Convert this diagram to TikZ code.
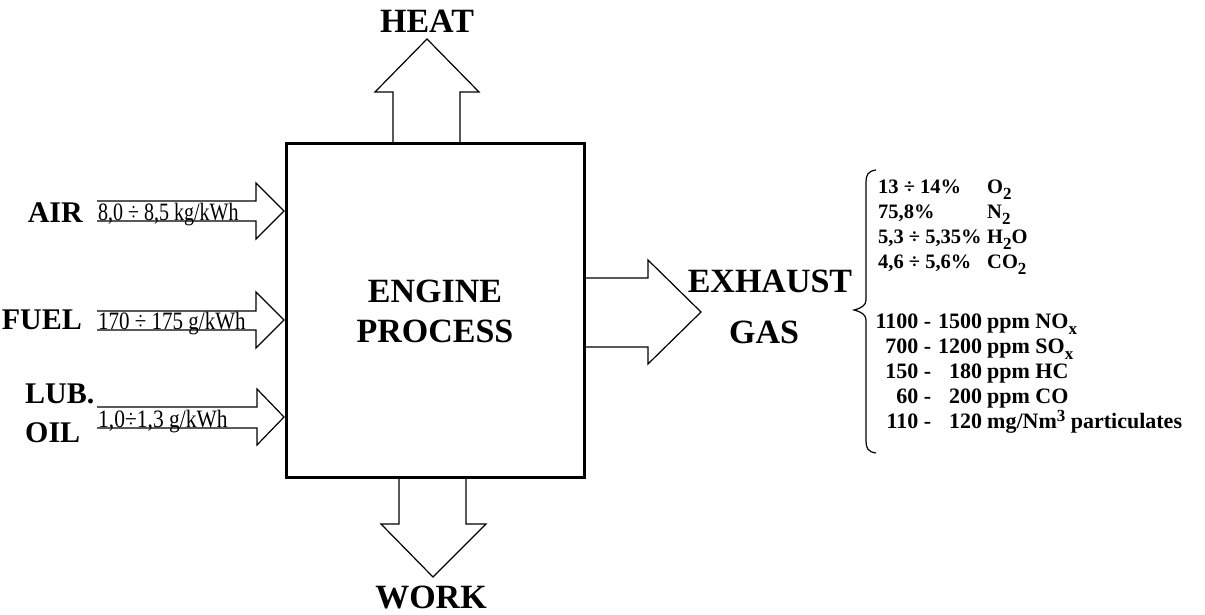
\documentclass[tikz,border=0pt]{standalone}
\usepackage{fontspec}
\setmainfont{Liberation Serif}
\usepackage{array}
\newcommand{\sbs}[1]{\raisebox{-6pt}{\fontsize{17}{17}\selectfont #1}}
\newcommand{\sps}[1]{\raisebox{7pt}{\fontsize{17}{17}\selectfont #1}}
\tikzset{
  big/.style={font=\fontsize{34}{40}\selectfont\bfseries, inner sep=0},
  side/.style={font=\fontsize{30}{36}\selectfont\bfseries, inner sep=0},
  rate/.style={font=\fontsize{25}{25}\selectfont, inner sep=0, anchor=base west},
  blockarrow/.style={draw, line width=1.2pt, line join=miter},
  enginebox/.style={draw, line width=3pt, minimum width=298pt, minimum height=334pt, inner sep=0},
  bracestyle/.style={draw, line width=1.2pt},
  listtext/.style={anchor=base west, inner sep=0}
}
\begin{document}
\begin{tikzpicture}[x=1pt,y=-1pt]
\useasboundingbox (0,0) rectangle (1205,614);

% engine box
\node[enginebox] (engine) at (435,310) {};
\node[big, anchor=base] (engtxt1) at (435,302) {ENGINE};
\node[big, anchor=base] (engtxt2) at (435,342) {PROCESS};

% heat arrow
\draw[blockarrow] (393,143) -- (393,92) -- (375,92) -- (427,39) -- (479,92) -- (460,92) -- (460,143);
\node[big, anchor=base] (heat) at (427,32) {HEAT};

% work arrow
\draw[blockarrow] (399,477) -- (399,524) -- (381,524) -- (433,577) -- (486,524) -- (466,524) -- (466,477);
\node[big, anchor=base] (work) at (431,608) {WORK};

% exhaust arrow
\draw[blockarrow] (585,278) -- (648,278) -- (648,260) -- (701,312) -- (648,364) -- (648,347) -- (585,347);
\node[big, anchor=base] (exh1) at (770,292) {EXHAUST};
\node[big, anchor=base] (exh2) at (764,343) {GAS};

% input arrows
\draw[blockarrow] (97,201) -- (256,201) -- (256,183) -- (284,211) -- (256,239) -- (256,221) -- (97,221);
\node[rate] (airrate) at (98,220) {\scalebox{0.8}[1]{8,0 ÷ 8,5 kg/kWh}};
\node[side, anchor=base east] (air) at (83,222) {AIR};

\draw[blockarrow] (97,311) -- (256,311) -- (256,292) -- (284,320) -- (256,348) -- (256,330) -- (97,330);
\node[rate] (fuelrate) at (98,329) {\scalebox{0.84}[1]{170 ÷ 175 g/kWh}};
\node[side, anchor=base east] (fuel) at (82,329) {FUEL};

\draw[blockarrow] (97,407) -- (257,407) -- (257,389) -- (284,417) -- (257,445) -- (257,428) -- (97,428);
\node[rate] (lubrate) at (98,427) {\scalebox{0.86}[1]{1,0÷1,3 g/kWh}};
\node[side, anchor=base west] (lub1) at (25,403) {LUB.};
\node[side, anchor=base west] (lub2) at (25,442) {OIL};

% brace
\path[bracestyle] (876,170) .. controls (868,171) and (866,175) .. (866,182) -- (866,300)
  .. controls (866,305) and (862,308) .. (854,310)
  .. controls (862,312) and (866,315) .. (866,320) -- (866,441)
  .. controls (866,448) and (868,452) .. (876,453);

% composition lists
\node[listtext, font=\fontsize{20.5}{25}\selectfont\bfseries] (gasmain) at (878,193) {%
\begin{tabular}[t]{@{}p{109pt}@{}l@{}}
13 ÷ 14\% & O\sbs{2}\\
75,8\% & N\sbs{2}\\
5,3 ÷ 5,35\% & H\sbs{2}O\\
4,6 ÷ 5,6\% & CO\sbs{2}
\end{tabular}};

\node[listtext, font=\fontsize{22}{25}\selectfont\bfseries] (gastrace) at (874,328) {%
\begin{tabular}[t]{@{}>{\raggedleft\arraybackslash}p{57pt}@{}>{\raggedleft\arraybackslash}p{51pt}@{\hspace{5pt}}l@{}}
1100 - & 1500 & ppm NO\sbs{x}\\
700 - & 1200 & ppm SO\sbs{x}\\
150 - & 180 & ppm HC\\
60 - & 200 & ppm CO\\
110 - & 120 & mg/Nm\sps{3} particulates
\end{tabular}};
\end{tikzpicture}
\end{document}
